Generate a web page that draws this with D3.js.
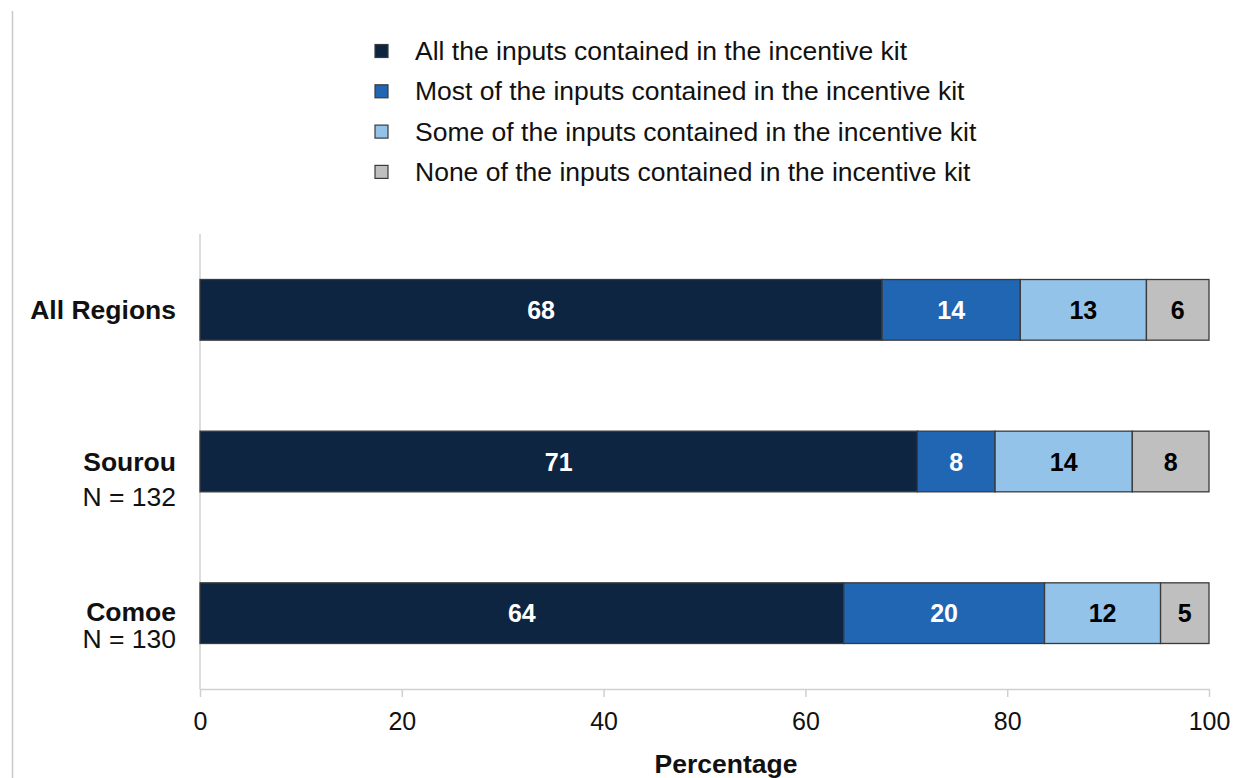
<!DOCTYPE html>
<html>
<head>
<meta charset="utf-8">
<script src="https://cdn.jsdelivr.net/npm/d3@7"></script>
<style>
  html, body { margin: 0; padding: 0; background: #fff; }
  svg { display: block; font-family: "Liberation Sans", Arial, sans-serif; }
</style>
</head>
<body>
<svg id="chart" width="1234" height="778"></svg>
<script>
// Regions shown as rows
const regions = ["All Regions", "Sourou", "Comoe"];
const sampleSizes = ["", "N = 132", "N = 130"];

// Share of farmers (%) by how many of the kit inputs they received
const seriesNames = [
  "All the inputs contained in the incentive kit",
  "Most of the inputs contained in the incentive kit",
  "Some of the inputs contained in the incentive kit",
  "None of the inputs contained in the incentive kit"
];
const allInputs  = [67.6, 71.1, 63.8];
const mostInputs = [13.7, 7.7, 19.9];
const someInputs = [12.5, 13.6, 11.5];
const noInputs   = [6.2, 7.6, 4.8];

const xTicks = [0, 20, 40, 60, 80, 100];
const xTitle = "Percentage";

const colors = ["#0e2542", "#2166b3", "#93c3e8", "#bfbfbf"];
const labelColors = ["#ffffff", "#ffffff", "#000000", "#000000"];

const svg = d3.select("#chart");
const margin = { left: 200, right: 1209, top: 234, bottom: 689 };

const rows = regions.map((r, i) => ({
  region: r,
  s0: allInputs[i], s1: mostInputs[i], s2: someInputs[i], s3: noInputs[i]
}));
const keys = ["s0", "s1", "s2", "s3"];
const stacked = d3.stack().keys(keys)(rows);

const x = d3.scaleLinear().domain([0, 100]).range([margin.left, margin.right]);
const y = d3.scaleBand().domain(regions).range([margin.top, margin.bottom])
  .paddingInner(0.6).paddingOuter(0.3);

// frame line at the far left
svg.append("line")
  .attr("x1", 12.5).attr("x2", 12.5).attr("y1", 11).attr("y2", 778)
  .attr("stroke", "#c8c8c8").attr("stroke-width", 1.5);

// vertical axis line
svg.append("line")
  .attr("x1", x(0)).attr("x2", x(0))
  .attr("y1", margin.top).attr("y2", margin.bottom)
  .attr("stroke", "#d0d0d0").attr("stroke-width", 1.5);

// x axis
const xAxis = svg.append("g")
  .attr("transform", `translate(0,${margin.bottom})`)
  .call(d3.axisBottom(x).tickValues(xTicks).tickSize(8).tickSizeOuter(0).tickPadding(15));
xAxis.select(".domain").attr("stroke", "#d0d0d0").attr("stroke-width", 1.5);
xAxis.selectAll(".tick line").attr("stroke", "#d0d0d0").attr("stroke-width", 1.5);
xAxis.selectAll(".tick text")
  .attr("font-size", 25).attr("fill", "#111")
  .attr("font-family", "'Liberation Sans', Arial, sans-serif");

svg.append("text")
  .attr("x", 726).attr("y", 764)
  .attr("text-anchor", "middle").attr("dominant-baseline", "central")
  .attr("font-size", 26.5).attr("font-weight", "bold").attr("fill", "#111")
  .text(xTitle);

// stacked bars
const layer = svg.selectAll("g.layer").data(stacked).join("g")
  .attr("class", "layer")
  .attr("fill", (d, i) => colors[i]);

layer.selectAll("rect").data(d => d).join("rect")
  .attr("x", d => x(d[0]))
  .attr("y", d => y(d.data.region))
  .attr("width", d => x(d[1]) - x(d[0]))
  .attr("height", y.bandwidth())
  .attr("stroke", "#3a3a3a").attr("stroke-width", 1.3);

// value labels
stacked.forEach((s, si) => {
  svg.append("g").selectAll("text").data(s).join("text")
    .attr("x", d => (x(d[0]) + x(d[1])) / 2)
    .attr("y", d => y(d.data.region) + y.bandwidth() / 2)
    .attr("text-anchor", "middle").attr("dominant-baseline", "central")
    .attr("font-size", 25).attr("font-weight", "bold")
    .attr("fill", labelColors[si])
    .text(d => Math.round(d[1] - d[0]));
});

// category labels
const subGap = [0, 35, 27];
const mainShift = [0, 0, -1];
regions.forEach((r, i) => {
  const cy = y(r) + y.bandwidth() / 2;
  svg.append("text")
    .attr("x", 176).attr("y", cy + mainShift[i])
    .attr("text-anchor", "end").attr("dominant-baseline", "central")
    .attr("font-size", 26.5).attr("font-weight", "bold").attr("fill", "#111")
    .text(r);
  if (sampleSizes[i]) {
    svg.append("text")
      .attr("x", 176).attr("y", cy + mainShift[i] + subGap[i])
      .attr("text-anchor", "end").attr("dominant-baseline", "central")
      .attr("font-size", 26.5).attr("fill", "#111")
      .text(sampleSizes[i]);
  }
});

// legend
const legend = svg.append("g");
seriesNames.forEach((name, i) => {
  const cy = 51 + i * 40.3;
  legend.append("rect")
    .attr("x", 375).attr("y", cy - 6.5).attr("width", 13).attr("height", 13)
    .attr("fill", colors[i]).attr("stroke", "#3a3a3a").attr("stroke-width", 1.2);
  legend.append("text")
    .attr("x", 415).attr("y", cy)
    .attr("dominant-baseline", "central")
    .attr("font-size", 26.5).attr("fill", "#111")
    .text(name);
});
</script>
</body>
</html>
